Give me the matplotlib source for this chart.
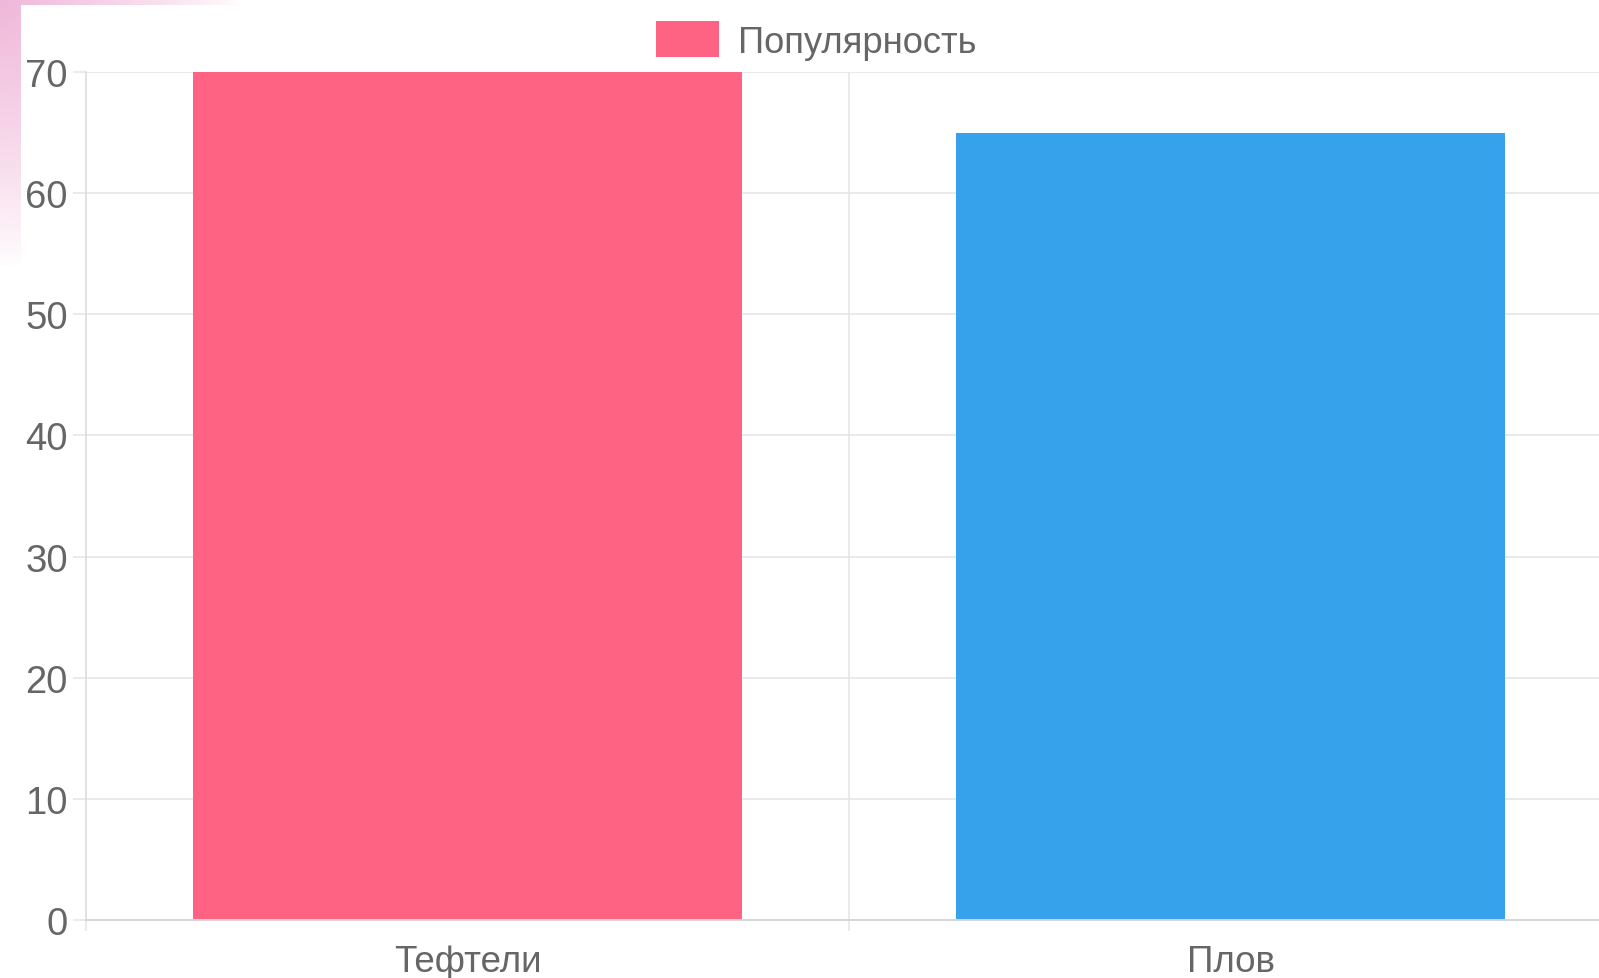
import numpy as np
import matplotlib
matplotlib.use("Agg")
import matplotlib.pyplot as plt

# data
dishes = ["Тефтели", "Плов"]
popularity = [70, 65]
bar_colors = ["#ff6384", "#36a2eb"]
series_name = "Популярность"
y_ticks = [0, 10, 20, 30, 40, 50, 60, 70]

W, H = 1599, 979
plt.rcParams["font.family"] = ["Liberation Sans", "DejaVu Sans"]
TXT = "#666666"
GRID = "#e6e6e6"

fig = plt.figure(figsize=(W / 100, H / 100), dpi=100)
fig.patch.set_facecolor("white")

# pinkish page background peeking in the top left corner
bg = fig.add_axes([0, 0, 1, 1], zorder=-10)
yy, xx = np.mgrid[0:H, 0:W]
r = np.sqrt(xx ** 2 + (yy * 0.9) ** 2)
a = np.clip(1 - r / 240.0, 0, 1) ** 0.8
a[(xx >= 21) & (yy >= 6)] = 0
pink = np.array([0.94, 0.72, 0.85])
img = np.ones((H, W, 3)) * (1 - a[..., None]) + pink * a[..., None]
bg.imshow(img, extent=[0, W, H, 0], aspect="auto", interpolation="bilinear")
bg.axis("off")

# plot area in pixels
left, right = 86, 1612
top, bottom = 73.3, 920.7
ax = fig.add_axes([left / W, 1 - bottom / H, (right - left) / W, (bottom - top) / H])
ax.set_facecolor("none")

x = np.arange(len(dishes))
bars = ax.bar(x, popularity, width=0.72, color=bar_colors, zorder=3)

ax.set_xlim(-0.5, len(dishes) - 0.5)
ax.set_ylim(0, 70)
ax.set_yticks(y_ticks)
ax.set_xticks(x)
ax.set_xticklabels(dishes)
ax.set_xticks(np.arange(len(dishes) + 1) - 0.5, minor=True)

ax.tick_params(axis="y", length=9.4, width=1.2, color=GRID, pad=3.6,
               labelsize=27.5, labelcolor=TXT)
ax.tick_params(axis="x", which="major", length=0, pad=17.5,
               labelsize=26.5, labelcolor=TXT)
ax.tick_params(axis="x", which="minor", length=8, width=1.2, color=GRID)

ax.grid(axis="y", color=GRID, linewidth=1.2, zorder=0)
ax.grid(axis="x", which="minor", color=GRID, linewidth=1.2, zorder=0)
ax.grid(axis="x", which="major", visible=False)

for s in ["top", "right"]:
    ax.spines[s].set_visible(False)
ax.spines["left"].set_color("#dedede")
ax.spines["left"].set_linewidth(1.2)
ax.spines["bottom"].set_color("#d6d6d6")
ax.spines["bottom"].set_linewidth(1.4)
ax.spines["bottom"].set_zorder(4)

fig.legend(handles=[bars.patches[0]], labels=[series_name], loc="center",
           bbox_to_anchor=(816 / W, 1 - 41.5 / H), frameon=False,
           fontsize=26.2, labelcolor=TXT, handlelength=1.73, handleheight=1.15,
           handletextpad=0.52, borderpad=0)

fig.savefig("out.png", dpi=100)
